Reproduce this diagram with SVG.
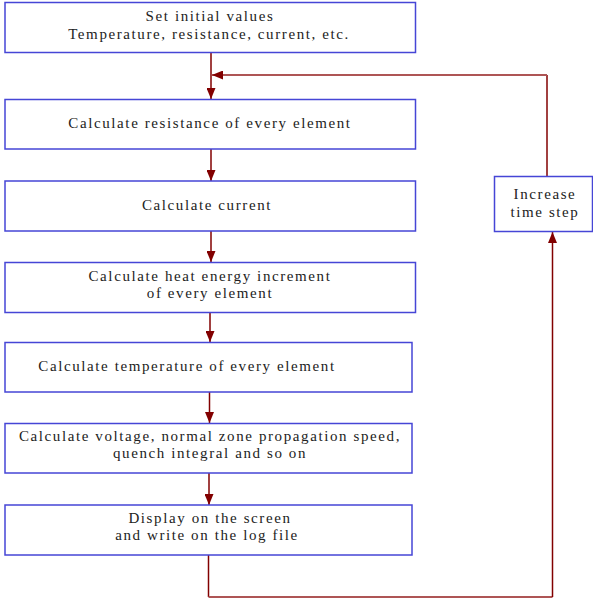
<svg xmlns="http://www.w3.org/2000/svg" width="593" height="600" viewBox="0 0 593 600">
<style>
.box{fill:#fff;stroke:#4646d6;stroke-width:1.5}
.t{font-family:"Liberation Serif","Times New Roman",serif;font-size:15px;letter-spacing:1.6px;fill:#222;text-anchor:middle}
.c{fill:none;stroke:#820000;stroke-width:1.5}
.h{fill:none;stroke:#ae5555;stroke-width:1.8}
</style>
<defs>
<marker id="ah" viewBox="0 0 11 9" refX="11" refY="4.5" markerWidth="11" markerHeight="9" markerUnits="userSpaceOnUse" orient="auto">
<path d="M0,0 L11,4.5 L0,9 Z" fill="#820000"/>
</marker>
</defs>
<rect width="593" height="600" fill="#fff"/>
<g id="connectors">
<path class="c" d="M211,52.5 V99" marker-end="url(#ah)"/>
<path class="c" d="M547,176 V75"/>
<path class="h" d="M547,75 H212" marker-end="url(#ah)"/>
<path class="c" d="M211,149 V181" marker-end="url(#ah)"/>
<path class="c" d="M211,231 V262" marker-end="url(#ah)"/>
<path class="c" d="M210,312.5 V342" marker-end="url(#ah)"/>
<path class="c" d="M209.5,392 V423" marker-end="url(#ah)"/>
<path class="c" d="M209,473 V505" marker-end="url(#ah)"/>
<path class="c" d="M208.5,555 V597"/>
<path class="h" d="M208.5,597 H552.5"/>
<path class="c" d="M552.5,597 V232" marker-end="url(#ah)"/>
</g>
<g id="n1">
<rect class="box" x="5" y="2.5" width="410.5" height="50"/>
<text class="t" x="210" y="21">Set initial values</text>
<text class="t" x="209" y="39">Temperature, resistance, current, etc.</text>
</g>
<g id="n2">
<rect class="box" x="5" y="99.5" width="410.5" height="49.5"/>
<text class="t" x="210" y="128">Calculate resistance of every element</text>
</g>
<g id="n3">
<rect class="box" x="5" y="181" width="410.5" height="50"/>
<text class="t" x="207" y="210">Calculate current</text>
</g>
<g id="n4">
<rect class="box" x="5" y="262.5" width="410.5" height="50"/>
<text class="t" x="210" y="281">Calculate heat energy increment</text>
<text class="t" x="210" y="298">of every element</text>
</g>
<g id="n5">
<rect class="box" x="5" y="342.5" width="407" height="49.5"/>
<text class="t" x="187" y="371">Calculate temperature of every element</text>
</g>
<g id="n6">
<rect class="box" x="5" y="423.5" width="407" height="49.5"/>
<text class="t" x="210" y="441">Calculate voltage, normal zone propagation speed,</text>
<text class="t" x="210" y="458">quench integral and so on</text>
</g>
<g id="n7">
<rect class="box" x="5" y="505" width="407" height="50"/>
<text class="t" x="210" y="523">Display on the screen</text>
<text class="t" x="207" y="540">and write on the log file</text>
</g>
<g id="n8">
<rect class="box" x="494.5" y="176.5" width="98" height="55"/>
<text class="t" x="545" y="199">Increase</text>
<text class="t" x="545" y="217">time step</text>
</g>
</svg>
